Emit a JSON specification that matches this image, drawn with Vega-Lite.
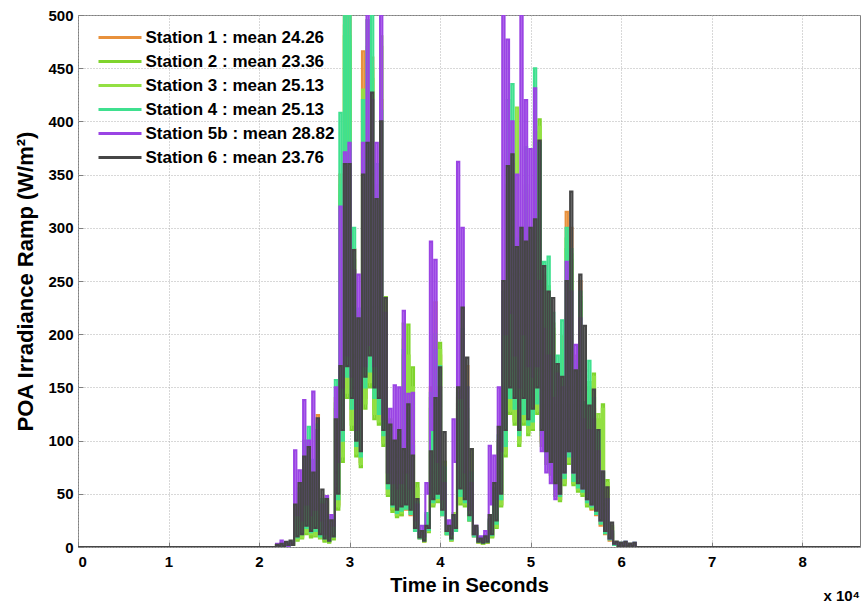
{
  "$schema": "https://vega.github.io/schema/vega-lite/v6.json",
  "width": 782,
  "height": 532,
  "autosize": "none",
  "padding": {"left": 78, "top": 15, "right": 1, "bottom": 58},
  "background": "white",
  "title": {"text": "x 10⁴", "orient": "bottom", "anchor": "end", "fontSize": 15, "fontWeight": "bold", "font": "Liberation Sans", "color": "#000", "offset": -6},
  "data": {"values": [
    {"t":0,"a":0,"b":0,"c":0,"d":0,"e":0,"f":0},
    {"t":21750,"a":0,"b":0,"c":0,"d":0,"e":0,"f":0},
    {"t":22000,"a":2,"b":2,"c":2,"d":2,"e":3,"f":2},
    {"t":22250,"a":1,"b":1,"c":1,"d":1,"e":1,"f":1},
    {"t":22500,"a":3,"b":2,"c":3,"d":3,"e":6,"f":3},
    {"t":22750,"a":1,"b":1,"c":1,"d":1,"e":2,"f":1},
    {"t":23000,"a":3,"b":3,"c":2,"d":4,"e":3,"f":5},
    {"t":23250,"a":1,"b":1,"c":1,"d":1,"e":1,"f":2},
    {"t":23500,"a":4,"b":3,"c":4,"d":5,"e":4,"f":6},
    {"t":23750,"a":2,"b":2,"c":2,"d":2,"e":3,"f":2},
    {"t":24000,"a":30,"b":28,"c":32,"d":35,"e":91,"f":40},
    {"t":24250,"a":8,"b":6,"c":7,"d":9,"e":30,"f":10},
    {"t":24500,"a":50,"b":45,"c":48,"d":55,"e":72,"f":60},
    {"t":24750,"a":10,"b":8,"c":9,"d":12,"e":25,"f":12},
    {"t":25000,"a":90,"b":80,"c":85,"d":100,"e":138,"f":85},
    {"t":25250,"a":15,"b":12,"c":14,"d":18,"e":40,"f":20},
    {"t":25500,"a":95,"b":90,"c":92,"d":113,"e":100,"f":94},
    {"t":25750,"a":10,"b":9,"c":12,"d":14,"e":30,"f":15},
    {"t":26000,"a":80,"b":75,"c":78,"d":82,"e":146,"f":70},
    {"t":26250,"a":12,"b":10,"c":11,"d":15,"e":35,"f":18},
    {"t":26500,"a":124,"b":105,"c":110,"d":115,"e":110,"f":121},
    {"t":26750,"a":10,"b":8,"c":9,"d":10,"e":25,"f":12},
    {"t":27000,"a":40,"b":38,"c":42,"d":45,"e":40,"f":54},
    {"t":27250,"a":6,"b":5,"c":7,"d":8,"e":12,"f":8},
    {"t":27500,"a":48,"b":42,"c":44,"d":46,"e":48,"f":45},
    {"t":27750,"a":5,"b":4,"c":6,"d":6,"e":10,"f":6},
    {"t":28000,"a":25,"b":22,"c":24,"d":28,"e":30,"f":25},
    {"t":28250,"a":8,"b":7,"c":9,"d":10,"e":20,"f":10},
    {"t":28500,"a":140,"b":130,"c":135,"d":157,"e":150,"f":120},
    {"t":28750,"a":40,"b":35,"c":38,"d":45,"e":80,"f":50},
    {"t":29000,"a":350,"b":330,"c":340,"d":408,"e":320,"f":170},
    {"t":29250,"a":90,"b":80,"c":85,"d":100,"e":150,"f":110},
    {"t":29500,"a":520,"b":480,"c":490,"d":520,"e":371,"f":360},
    {"t":29750,"a":150,"b":140,"c":145,"d":160,"e":180,"f":170},
    {"t":30000,"a":510,"b":470,"c":480,"d":500,"e":380,"f":360},
    {"t":30250,"a":120,"b":110,"c":115,"d":130,"e":160,"f":140},
    {"t":30500,"a":280,"b":260,"c":270,"d":300,"e":260,"f":279},
    {"t":30750,"a":90,"b":85,"c":88,"d":95,"e":110,"f":100},
    {"t":31000,"a":220,"b":210,"c":215,"d":224,"e":256,"f":215},
    {"t":31250,"a":80,"b":75,"c":78,"d":85,"e":120,"f":90},
    {"t":31500,"a":466,"b":420,"c":430,"d":420,"e":380,"f":350},
    {"t":31750,"a":140,"b":130,"c":135,"d":150,"e":170,"f":160},
    {"t":32000,"a":495,"b":460,"c":470,"d":495,"e":500,"f":380},
    {"t":32250,"a":160,"b":150,"c":155,"d":165,"e":190,"f":180},
    {"t":32500,"a":460,"b":440,"c":450,"d":510,"e":420,"f":427},
    {"t":32750,"a":130,"b":120,"c":125,"d":140,"e":170,"f":150},
    {"t":33000,"a":340,"b":330,"c":335,"d":360,"e":380,"f":327},
    {"t":33250,"a":120,"b":115,"c":118,"d":125,"e":150,"f":140},
    {"t":33500,"a":420,"b":480,"c":470,"d":410,"e":500,"f":400},
    {"t":33750,"a":100,"b":95,"c":98,"d":105,"e":120,"f":110},
    {"t":34000,"a":210,"b":235,"c":225,"d":215,"e":220,"f":234},
    {"t":34250,"a":50,"b":48,"c":50,"d":55,"e":70,"f":60},
    {"t":34500,"a":110,"b":120,"c":115,"d":112,"e":130,"f":115},
    {"t":34750,"a":35,"b":33,"c":36,"d":38,"e":60,"f":40},
    {"t":35000,"a":90,"b":95,"c":92,"d":98,"e":152,"f":100},
    {"t":35250,"a":30,"b":28,"c":30,"d":32,"e":55,"f":35},
    {"t":35500,"a":100,"b":105,"c":102,"d":108,"e":150,"f":110},
    {"t":35750,"a":30,"b":30,"c":32,"d":34,"e":60,"f":38},
    {"t":36000,"a":180,"b":210,"c":195,"d":185,"e":222,"f":92},
    {"t":36250,"a":35,"b":40,"c":38,"d":36,"e":70,"f":40},
    {"t":36500,"a":120,"b":209,"c":180,"d":125,"e":144,"f":134},
    {"t":36750,"a":30,"b":35,"c":33,"d":31,"e":55,"f":35},
    {"t":37000,"a":100,"b":169,"c":150,"d":95,"e":145,"f":86},
    {"t":37250,"a":15,"b":18,"c":16,"d":15,"e":25,"f":18},
    {"t":37500,"a":40,"b":60,"c":55,"d":42,"e":40,"f":45},
    {"t":37750,"a":8,"b":10,"c":9,"d":8,"e":12,"f":9},
    {"t":38000,"a":12,"b":14,"c":13,"d":12,"e":20,"f":15},
    {"t":38250,"a":5,"b":6,"c":5,"d":6,"e":10,"f":6},
    {"t":38500,"a":30,"b":28,"c":30,"d":32,"e":60,"f":20},
    {"t":38750,"a":15,"b":14,"c":15,"d":16,"e":50,"f":18},
    {"t":39000,"a":150,"b":130,"c":140,"d":145,"e":287,"f":90},
    {"t":39250,"a":40,"b":38,"c":40,"d":42,"e":110,"f":45},
    {"t":39500,"a":230,"b":192,"c":200,"d":185,"e":270,"f":140},
    {"t":39750,"a":45,"b":42,"c":44,"d":46,"e":80,"f":50},
    {"t":40000,"a":180,"b":192,"c":185,"d":170,"e":150,"f":169},
    {"t":40250,"a":30,"b":32,"c":31,"d":30,"e":45,"f":35},
    {"t":40500,"a":80,"b":80,"c":78,"d":75,"e":60,"f":108},
    {"t":40750,"a":12,"b":12,"c":13,"d":12,"e":15,"f":15},
    {"t":41000,"a":18,"b":20,"c":19,"d":18,"e":25,"f":20},
    {"t":41250,"a":6,"b":7,"c":6,"d":7,"e":12,"f":8},
    {"t":41500,"a":28,"b":30,"c":32,"d":30,"e":120,"f":30},
    {"t":41750,"a":15,"b":15,"c":16,"d":15,"e":80,"f":18},
    {"t":42000,"a":140,"b":130,"c":135,"d":145,"e":362,"f":150},
    {"t":42250,"a":45,"b":40,"c":42,"d":48,"e":140,"f":55},
    {"t":42500,"a":200,"b":180,"c":190,"d":205,"e":300,"f":225},
    {"t":42750,"a":40,"b":38,"c":40,"d":42,"e":70,"f":45},
    {"t":43000,"a":170,"b":120,"c":130,"d":150,"e":150,"f":178},
    {"t":43250,"a":25,"b":25,"c":26,"d":25,"e":35,"f":30},
    {"t":43500,"a":60,"b":92,"c":85,"d":70,"e":60,"f":92},
    {"t":43750,"a":10,"b":12,"c":11,"d":10,"e":12,"f":12},
    {"t":44000,"a":15,"b":18,"c":16,"d":17,"e":20,"f":20},
    {"t":44250,"a":4,"b":5,"c":4,"d":5,"e":6,"f":5},
    {"t":44500,"a":8,"b":7,"c":8,"d":9,"e":10,"f":8},
    {"t":44750,"a":3,"b":3,"c":3,"d":4,"e":5,"f":4},
    {"t":45000,"a":10,"b":9,"c":10,"d":11,"e":15,"f":10},
    {"t":45250,"a":4,"b":4,"c":5,"d":5,"e":8,"f":5},
    {"t":45500,"a":25,"b":22,"c":24,"d":26,"e":95,"f":30},
    {"t":45750,"a":10,"b":9,"c":10,"d":11,"e":40,"f":12},
    {"t":46000,"a":50,"b":48,"c":50,"d":55,"e":86,"f":60},
    {"t":46250,"a":20,"b":18,"c":19,"d":22,"e":45,"f":25},
    {"t":46500,"a":100,"b":95,"c":98,"d":105,"e":150,"f":113},
    {"t":46750,"a":40,"b":38,"c":40,"d":45,"e":90,"f":50},
    {"t":47000,"a":230,"b":220,"c":225,"d":240,"e":500,"f":250},
    {"t":47250,"a":90,"b":85,"c":88,"d":95,"e":200,"f":110},
    {"t":47500,"a":340,"b":330,"c":335,"d":420,"e":477,"f":358},
    {"t":47750,"a":130,"b":125,"c":128,"d":140,"e":220,"f":150},
    {"t":48000,"a":360,"b":350,"c":355,"d":435,"e":400,"f":369},
    {"t":48250,"a":120,"b":115,"c":118,"d":130,"e":180,"f":140},
    {"t":48500,"a":270,"b":280,"c":413,"d":290,"e":350,"f":282},
    {"t":48750,"a":100,"b":95,"c":98,"d":105,"e":150,"f":110},
    {"t":49000,"a":290,"b":280,"c":285,"d":300,"e":500,"f":300},
    {"t":49250,"a":120,"b":115,"c":118,"d":125,"e":200,"f":140},
    {"t":49500,"a":330,"b":340,"c":335,"d":376,"e":420,"f":287},
    {"t":49750,"a":110,"b":105,"c":108,"d":115,"e":170,"f":120},
    {"t":50000,"a":290,"b":285,"c":288,"d":300,"e":374,"f":300},
    {"t":50250,"a":115,"b":110,"c":112,"d":118,"e":160,"f":130},
    {"t":50500,"a":300,"b":380,"c":390,"d":450,"e":431,"f":308},
    {"t":50750,"a":130,"b":125,"c":128,"d":135,"e":170,"f":150},
    {"t":51000,"a":360,"b":402,"c":395,"d":380,"e":250,"f":382},
    {"t":51250,"a":100,"b":95,"c":98,"d":105,"e":90,"f":110},
    {"t":51500,"a":250,"b":255,"c":250,"d":268,"e":205,"f":264},
    {"t":51750,"a":80,"b":78,"c":80,"d":85,"e":70,"f":90},
    {"t":52000,"a":230,"b":240,"c":245,"d":273,"e":180,"f":240},
    {"t":52250,"a":70,"b":68,"c":70,"d":75,"e":60,"f":80},
    {"t":52500,"a":200,"b":210,"c":205,"d":220,"e":140,"f":234},
    {"t":52750,"a":50,"b":48,"c":50,"d":55,"e":45,"f":60},
    {"t":53000,"a":160,"b":165,"c":160,"d":180,"e":163,"f":172},
    {"t":53250,"a":45,"b":43,"c":45,"d":48,"e":50,"f":50},
    {"t":53500,"a":198,"b":180,"c":185,"d":213,"e":150,"f":160},
    {"t":53750,"a":60,"b":58,"c":60,"d":65,"e":70,"f":70},
    {"t":54000,"a":315,"b":280,"c":290,"d":300,"e":268,"f":250},
    {"t":54250,"a":80,"b":78,"c":80,"d":85,"e":90,"f":90},
    {"t":54500,"a":300,"b":270,"c":275,"d":280,"e":240,"f":334},
    {"t":54750,"a":60,"b":58,"c":60,"d":62,"e":70,"f":70},
    {"t":55000,"a":180,"b":170,"c":172,"d":175,"e":190,"f":166},
    {"t":55250,"a":55,"b":52,"c":54,"d":56,"e":65,"f":60},
    {"t":55500,"a":250,"b":230,"c":235,"d":240,"e":215,"f":256},
    {"t":55750,"a":50,"b":48,"c":50,"d":52,"e":55,"f":55},
    {"t":56000,"a":136,"b":130,"c":132,"d":136,"e":120,"f":208},
    {"t":56250,"a":40,"b":38,"c":40,"d":42,"e":45,"f":45},
    {"t":56500,"a":140,"b":150,"c":155,"d":175,"e":110,"f":133},
    {"t":56750,"a":35,"b":36,"c":37,"d":38,"e":40,"f":40},
    {"t":57000,"a":130,"b":163,"c":160,"d":140,"e":120,"f":148},
    {"t":57250,"a":30,"b":32,"c":33,"d":31,"e":35,"f":34},
    {"t":57500,"a":100,"b":120,"c":125,"d":110,"e":90,"f":110},
    {"t":57750,"a":20,"b":25,"c":26,"d":22,"e":25,"f":25},
    {"t":58000,"a":60,"b":134,"c":130,"d":70,"e":71,"f":71},
    {"t":58250,"a":12,"b":18,"c":17,"d":13,"e":15,"f":15},
    {"t":58500,"a":40,"b":63,"c":60,"d":45,"e":45,"f":56},
    {"t":58750,"a":6,"b":10,"c":9,"d":7,"e":8,"f":8},
    {"t":59000,"a":12,"b":20,"c":18,"d":14,"e":15,"f":23},
    {"t":59250,"a":2,"b":3,"c":3,"d":2,"e":3,"f":3},
    {"t":59500,"a":4,"b":5,"c":5,"d":4,"e":5,"f":5},
    {"t":59750,"a":1,"b":1,"c":1,"d":1,"e":2,"f":1},
    {"t":60000,"a":3,"b":4,"c":3,"d":4,"e":4,"f":4},
    {"t":60250,"a":1,"b":1,"c":1,"d":1,"e":1,"f":1},
    {"t":60500,"a":4,"b":3,"c":4,"d":5,"e":5,"f":5},
    {"t":60750,"a":1,"b":1,"c":1,"d":1,"e":1,"f":1},
    {"t":61000,"a":3,"b":2,"c":3,"d":3,"e":3,"f":3},
    {"t":61250,"a":1,"b":1,"c":1,"d":1,"e":1,"f":1},
    {"t":61500,"a":3,"b":3,"c":3,"d":4,"e":4,"f":4},
    {"t":61750,"a":0,"b":0,"c":0,"d":0,"e":0,"f":0},
    {"t":86400,"a":0,"b":0,"c":0,"d":0,"e":0,"f":0}
  ]},
  "transform": [{"fold": ["a","b","c","d","e","f"], "as": ["s","v"]}],
  "mark": {"type": "line", "strokeWidth": 2.1, "clip": true, "interpolate": "step"},
  "encoding": {
    "x": {"field": "t", "type": "quantitative",
      "scale": {"domain": [0, 86400], "nice": false, "zero": false},
      "axis": {"values": [0,10000,20000,30000,40000,50000,60000,70000,80000], "labelExpr": "datum.value / 10000", "title": "Time in Seconds", "labelPadding": 12, "titlePadding": 6}},
    "y": {"field": "v", "type": "quantitative",
      "scale": {"domain": [0, 500], "nice": false},
      "axis": {"values": [0,50,100,150,200,250,300,350,400,450,500], "title": "POA Irradiance Ramp (W/m²)", "titleFontSize": 22, "labelPadding": 10, "titlePadding": 10}},
    "color": {"field": "s", "type": "nominal",
      "scale": {"domain": ["a","b","c","d","e","f"], "range": ["#e8913c","#7fd42c","#93e043","#3fe08f","#9a44e4","#464646"]},
      "legend": {"title": null, "orient": "none", "legendX": 17, "legendY": 14,
        "labelExpr": "{'a':'Station 1 : mean 24.26','b':'Station 2 : mean 23.36','c':'Station 3 : mean 25.13','d':'Station 4 : mean 25.13','e':'Station 5b : mean 28.82','f':'Station 6 : mean 23.76'}[datum.label]",
        "symbolType": "M-4.3,0H4.3", "symbolSize": 100, "symbolStrokeWidth": 3, "symbolOffset": 16.5,
        "labelOffset": 17, "labelFontSize": 17, "labelFontWeight": "bold", "labelFont": "Liberation Sans", "labelColor": "#000", "labelLimit": 0,
        "rowPadding": 6, "padding": 0}}
  },
  "config": {
    "font": "Liberation Sans",
    "view": {"stroke": "#7f7f7f", "strokeWidth": 1},
    "axis": {"grid": true, "gridColor": "#b0b0b0", "gridDash": [1, 2], "domain": false,
      "labelFont": "Liberation Sans", "labelFontSize": 15, "labelFontWeight": "bold", "labelColor": "#000",
      "titleFont": "Liberation Sans", "titleFontSize": 20, "titleFontWeight": "bold", "titleColor": "#000",
      "tickColor": "#7f7f7f", "tickSize": -5}
  }
}
